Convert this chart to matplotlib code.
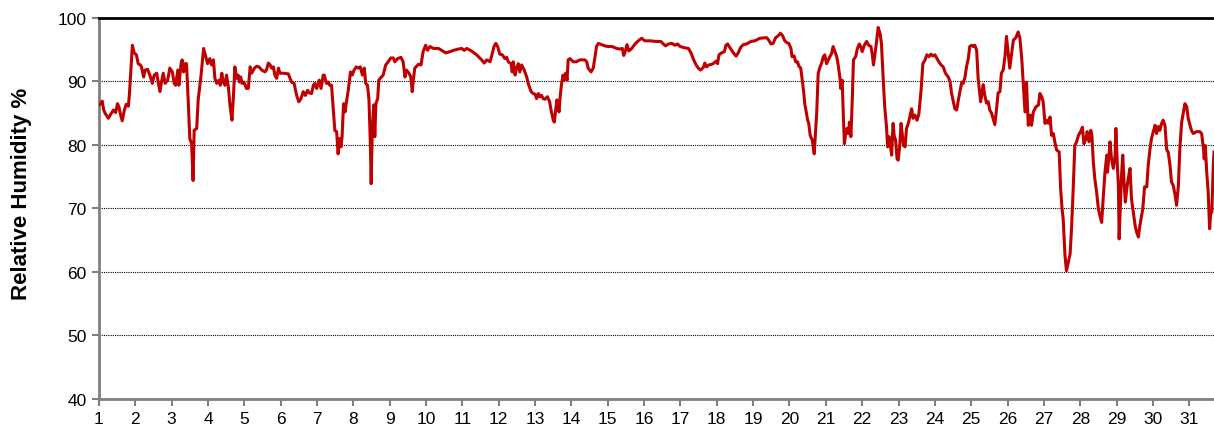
import matplotlib.pyplot as plt

# dados (dia do mes, umidade relativa %)
dias = [
    1.00, 1.06, 1.09, 1.13, 1.18, 1.26, 1.33, 1.40, 1.46, 1.51, 1.55, 1.59, 1.64, 1.70, 1.75, 1.81,
    1.84, 1.92, 1.97, 2.03, 2.08, 2.14, 2.17, 2.23, 2.27, 2.34, 2.40, 2.47, 2.52, 2.59, 2.63, 2.68,
    2.72, 2.77, 2.82, 2.89, 2.95, 3.02, 3.07, 3.11, 3.17, 3.20, 3.26, 3.29, 3.33, 3.37, 3.41, 3.46,
    3.50, 3.55, 3.59, 3.62, 3.69, 3.73, 3.81, 3.84, 3.88, 3.94, 3.99, 4.05, 4.10, 4.15, 4.19, 4.24,
    4.30, 4.34, 4.38, 4.42, 4.47, 4.51, 4.56, 4.61, 4.66, 4.70, 4.74, 4.79, 4.83, 4.87, 4.90, 4.94,
    4.99, 5.06, 5.11, 5.16, 5.20, 5.28, 5.34, 5.40, 5.48, 5.57, 5.61, 5.66, 5.71, 5.75, 5.80, 5.84,
    5.89, 5.94, 5.98, 6.07, 6.21, 6.30, 6.37, 6.44, 6.50, 6.56, 6.62, 6.68, 6.74, 6.79, 6.85, 6.90,
    6.94, 6.99, 7.06, 7.11, 7.17, 7.20, 7.26, 7.31, 7.35, 7.40, 7.45, 7.49, 7.54, 7.58, 7.62, 7.66,
    7.69, 7.73, 7.77, 7.81, 7.86, 7.92, 7.97, 8.02, 8.08, 8.13, 8.19, 8.25, 8.30, 8.34, 8.39, 8.43,
    8.47, 8.49, 8.52, 8.56, 8.59, 8.62, 8.67, 8.70, 8.74, 8.82, 8.89, 8.96, 9.03, 9.10, 9.14, 9.22,
    9.31, 9.37, 9.42, 9.46, 9.53, 9.58, 9.62, 9.66, 9.69, 9.79, 9.86, 9.92, 9.99, 10.04, 10.11, 10.20,
    10.34, 10.43, 10.54, 10.61, 10.75, 10.89, 10.98, 11.05, 11.12, 11.25, 11.39, 11.53, 11.60, 11.67,
    11.76, 11.80, 11.87, 11.92, 11.97, 12.03, 12.10, 12.17, 12.22, 12.26, 12.34, 12.37, 12.40, 12.45,
    12.49, 12.54, 12.58, 12.63, 12.70, 12.77, 12.81, 12.89, 12.95, 13.00, 13.04, 13.09, 13.13, 13.18,
    13.22, 13.27, 13.34, 13.40, 13.44, 13.50, 13.53, 13.56, 13.60, 13.64, 13.66, 13.69, 13.73, 13.77,
    13.80, 13.84, 13.88, 13.91, 13.96, 14.05, 14.14, 14.23, 14.37, 14.42, 14.46, 14.54, 14.60, 14.65,
    14.69, 14.74, 14.83, 14.92, 15.01, 15.12, 15.24, 15.33, 15.40, 15.44, 15.49, 15.53, 15.58, 15.66,
    15.75, 15.84, 15.93, 16.02, 16.16, 16.34, 16.46, 16.53, 16.59, 16.67, 16.76, 16.85, 16.92, 16.99,
    17.12, 17.22, 17.29, 17.35, 17.42, 17.49, 17.55, 17.63, 17.67, 17.72, 17.78, 17.86, 17.92, 17.98,
    18.02, 18.06, 18.13, 18.21, 18.25, 18.30, 18.34, 18.41, 18.47, 18.53, 18.59, 18.66, 18.73, 18.82,
    18.94, 19.05, 19.18, 19.37, 19.43, 19.49, 19.55, 19.62, 19.69, 19.75, 19.81, 19.87, 19.93, 19.98,
    20.04, 20.07, 20.13, 20.17, 20.22, 20.26, 20.31, 20.35, 20.39, 20.42, 20.47, 20.50, 20.53, 20.57,
    20.63, 20.68, 20.72, 20.75, 20.79, 20.84, 20.88, 20.93, 20.97, 21.02, 21.07, 21.11, 21.16, 21.20,
    21.25, 21.30, 21.34, 21.39, 21.41, 21.45, 21.48, 21.51, 21.54, 21.58, 21.62, 21.65, 21.69, 21.73,
    21.76, 21.82, 21.87, 21.92, 21.96, 22.00, 22.06, 22.12, 22.18, 22.24, 22.28, 22.31, 22.35, 22.40,
    22.44, 22.49, 22.53, 22.58, 22.62, 22.67, 22.70, 22.74, 22.77, 22.81, 22.85, 22.88, 22.92, 22.96,
    22.99, 23.03, 23.07, 23.10, 23.14, 23.18, 23.22, 23.27, 23.31, 23.36, 23.40, 23.45, 23.51, 23.56,
    23.62, 23.67, 23.73, 23.78, 23.84, 23.89, 23.95, 24.00, 24.06, 24.11, 24.17, 24.23, 24.29, 24.37,
    24.42, 24.46, 24.51, 24.55, 24.60, 24.64, 24.69, 24.74, 24.78, 24.83, 24.87, 24.92, 24.96, 25.01,
    25.06, 25.10, 25.15, 25.19, 25.26, 25.33, 25.37, 25.42, 25.47, 25.51, 25.56, 25.60, 25.65, 25.70,
    25.74, 25.79, 25.83, 25.88, 25.93, 25.97, 26.06, 26.16, 26.23, 26.29, 26.34, 26.39, 26.43, 26.48,
    26.52, 26.57, 26.62, 26.66, 26.71, 26.78, 26.85, 26.89, 26.94, 26.98, 27.03, 27.07, 27.12, 27.17,
    27.21, 27.26, 27.30, 27.35, 27.42, 27.46, 27.50, 27.53, 27.58, 27.62, 27.67, 27.72, 27.76, 27.81,
    27.85, 27.90, 27.95, 28.01, 28.06, 28.10, 28.16, 28.19, 28.24, 28.29, 28.32, 28.36, 28.40, 28.45,
    28.50, 28.54, 28.59, 28.63, 28.68, 28.73, 28.75, 28.79, 28.82, 28.86, 28.91, 28.96, 28.98, 29.02,
    29.05, 29.07, 29.11, 29.14, 29.17, 29.20, 29.24, 29.28, 29.32, 29.37, 29.41, 29.46, 29.51, 29.55,
    29.60, 29.64, 29.72, 29.77, 29.83, 29.87, 29.92, 29.96, 30.01, 30.06, 30.10, 30.15, 30.19, 30.24,
    30.28, 30.33, 30.38, 30.42, 30.47, 30.51, 30.56, 30.61, 30.65, 30.70, 30.74, 30.79, 30.84, 30.88,
    30.93, 30.97, 31.02, 31.06, 31.11, 31.20, 31.29, 31.34, 31.39, 31.41, 31.44, 31.48, 31.52, 31.56,
    31.59, 31.62, 31.66, 31.68,
]
umidade = [
    86.3, 86.6, 86.9, 85.5, 84.9, 84.2, 84.9, 85.5, 85.1, 86.5, 86.0, 84.9, 83.8, 85.5, 86.4, 86.1,
    88.1, 95.7, 94.5, 94.2, 92.8, 92.6, 92.3, 90.7, 91.8, 91.9, 91.0, 89.7, 91.0, 91.3, 89.9, 88.4,
    89.9, 91.3, 89.7, 90.2, 92.1, 91.5, 89.7, 89.4, 91.8, 89.4, 92.8, 93.4, 91.5, 92.8, 92.8, 86.5,
    81.0, 80.2, 74.4, 82.3, 82.6, 87.1, 91.0, 92.8, 95.2, 93.9, 92.8, 93.6, 92.6, 93.4, 90.5, 89.7,
    90.2, 89.4, 91.3, 89.9, 89.4, 91.0, 89.2, 86.0, 83.9, 87.6, 92.3, 90.5, 91.0, 89.9, 90.7, 89.7,
    89.9, 88.9, 88.9, 92.3, 91.3, 92.1, 92.4, 92.3, 91.8, 91.5, 91.8, 92.9, 92.6, 92.1, 92.3, 91.0,
    90.5, 92.1, 91.3, 91.3, 91.2, 89.9, 89.7, 87.8, 86.8, 87.3, 88.4, 87.8, 88.6, 88.2, 88.1, 89.4,
    89.7, 88.9, 90.2, 88.9, 91.0, 91.0, 89.7, 89.9, 89.4, 89.4, 85.5, 82.3, 82.1, 78.6, 81.0, 79.7,
    81.3, 86.5, 85.2, 86.8, 88.6, 91.5, 91.0, 91.8, 92.3, 92.1, 92.3, 91.0, 92.1, 89.7, 89.4, 87.1,
    79.7, 73.9, 82.3, 86.3, 81.3, 86.5, 87.3, 90.2, 90.5, 91.0, 92.6, 93.1, 93.7, 93.7, 93.1, 93.6,
    93.8, 93.1, 90.7, 91.8, 91.3, 90.7, 88.4, 90.7, 92.1, 92.7, 92.6, 94.7, 95.7, 94.9, 95.5, 95.2,
    95.2, 94.9, 94.5, 94.6, 94.9, 95.1, 95.2, 94.9, 95.2, 94.8, 94.2, 93.4, 92.9, 93.4,
    93.1, 93.9, 95.5, 96.0, 95.5, 94.3, 94.2, 93.6, 93.8, 93.1, 92.8, 91.5, 93.1, 91.0,
    92.1, 92.8, 91.5, 92.6, 91.8, 90.7, 89.7, 88.4, 88.1, 88.0, 87.3, 88.1, 87.6, 87.8,
    87.3, 87.2, 87.6, 86.8, 85.5, 83.9, 83.6, 85.2, 87.1, 85.7, 85.2, 87.6, 89.7, 91.0,
    90.2, 91.3, 90.2, 93.4, 93.6, 93.1, 93.1, 93.4, 93.4, 93.1, 92.1, 91.5, 92.1, 93.9,
    95.5, 96.0, 95.8, 95.6, 95.5, 95.5, 95.2, 95.1, 95.2, 94.1, 94.9, 95.8, 94.8, 95.2,
    95.9, 96.4, 96.8, 96.4, 96.4, 96.3, 96.3, 95.9, 95.6, 95.9, 96.0, 95.7, 95.9, 95.5,
    95.3, 95.2, 94.5, 93.6, 92.7, 92.1, 91.8, 92.2, 92.9, 92.3, 92.6, 92.7, 92.9, 93.2,
    92.8, 94.2, 94.5, 94.7, 95.7, 95.9, 95.5, 94.9, 94.4, 94.0, 94.5, 95.4, 95.8, 95.9,
    96.3, 96.4, 96.8, 96.9, 96.5, 95.9, 96.0, 96.9, 97.2, 97.6, 97.2, 96.4, 96.1, 96.0,
    95.2, 93.9, 94.0, 93.1, 93.1, 92.4, 92.1, 90.2, 88.4, 86.5, 84.9, 83.9, 83.4, 81.5,
    80.7, 78.6, 82.3, 85.2, 91.3, 92.3, 92.8, 93.9, 94.2, 92.8, 93.4, 93.9, 94.4, 95.5,
    94.7, 93.9, 92.6, 90.5, 88.9, 90.2, 84.9, 80.2, 81.5, 82.6, 81.8, 83.6, 81.3, 87.6,
    93.4, 93.9, 95.2, 95.9, 95.5, 94.7, 95.7, 96.3, 95.7, 95.5, 94.2, 92.6, 94.2, 96.5,
    98.5, 97.6, 96.0, 90.2, 86.0, 82.8, 79.7, 81.3, 80.2, 78.4, 83.4, 81.5, 80.7, 77.8,
    77.6, 79.7, 83.4, 81.8, 79.9, 79.7, 82.6, 83.4, 84.4, 85.7, 84.2, 84.7, 83.9, 84.9,
    88.6, 92.8, 93.4, 94.2, 93.9, 94.3, 94.0, 94.2, 93.6, 93.1, 92.6, 92.3, 91.3, 90.7,
    89.9, 88.1, 86.8, 85.7, 85.5, 86.9, 88.4, 89.9, 89.7, 90.7, 92.3, 93.6, 95.5, 95.7,
    95.5, 95.7, 94.9, 90.5, 86.8, 89.5, 87.9, 86.6, 86.8, 85.5, 85.0, 84.2, 83.2, 85.8,
    88.2, 88.4, 91.3, 91.8, 94.0, 97.1, 92.1, 96.5, 96.9, 97.8, 96.8, 93.6, 89.9, 85.2,
    89.9, 83.1, 84.7, 83.1, 85.2, 86.0, 86.3, 88.1, 87.6, 86.8, 83.4, 83.9, 83.4, 84.4,
    81.5, 81.8, 80.5, 79.2, 78.9, 73.1, 69.9, 68.4, 62.6, 60.2, 61.5, 62.8, 66.8, 73.6,
    79.9, 80.5, 81.5, 82.1, 82.8, 80.2, 81.0, 82.1, 80.5, 82.3, 81.5, 77.3, 74.7, 72.6,
    69.9, 68.9, 67.8, 71.5, 75.7, 78.4, 75.7, 78.4, 80.5, 77.8, 76.3, 78.4, 82.6, 76.8,
    73.6, 65.2, 71.5, 75.7, 78.4, 74.7, 71.0, 73.1, 74.7, 76.3, 71.5, 69.4, 67.3, 66.3,
    65.5, 67.3, 69.9, 73.4, 73.4, 76.8, 79.4, 81.0, 82.1, 83.1, 81.8, 82.9, 82.3, 83.4,
    83.9, 83.1, 79.2, 78.9, 76.8, 74.2, 73.6, 72.1, 70.5, 73.6, 79.4, 83.6, 85.2, 86.5,
    86.0, 84.2, 83.1, 82.3, 81.8, 82.1, 82.1, 81.8, 79.4, 77.8, 79.9, 75.7, 72.6, 66.8,
    69.4, 69.4, 76.8, 78.9,
]
ticks_x = list(range(1, 32))
ticks_y = [40, 50, 60, 70, 80, 90, 100]

plt.rcParams['font.family'] = ['Liberation Sans', 'DejaVu Sans']

fig = plt.figure(figsize=(12.14, 4.31), dpi=100)
ax = fig.add_axes([0.0815, 0.072, 0.9185, 0.884])

for v in ticks_y[1:-1]:
    ax.axhline(v, color='black', lw=0.8, ls=(0, (1, 1)), zorder=1)

ax.plot(dias, umidade, color='#C00000', lw=2.2, zorder=3)

ax.set_xlim(1, 31.68)
ax.set_ylim(40, 100)
ax.set_xticks(ticks_x)
ax.set_yticks(ticks_y)
ax.tick_params(axis='both', labelsize=12.5, length=5, width=1.5, color='#808080', pad=4)
ax.set_ylabel('Relative Humidity %', fontsize=16, fontweight='bold')
ax.yaxis.set_label_coords(-0.060, 0.54)

ax.spines['left'].set_color('#808080')
ax.spines['left'].set_linewidth(2)
ax.spines['bottom'].set_color('#808080')
ax.spines['bottom'].set_linewidth(2)
ax.spines['top'].set_color('black')
ax.spines['top'].set_linewidth(2)
ax.spines['right'].set_visible(False)

fig.savefig('out.png', dpi=100)
